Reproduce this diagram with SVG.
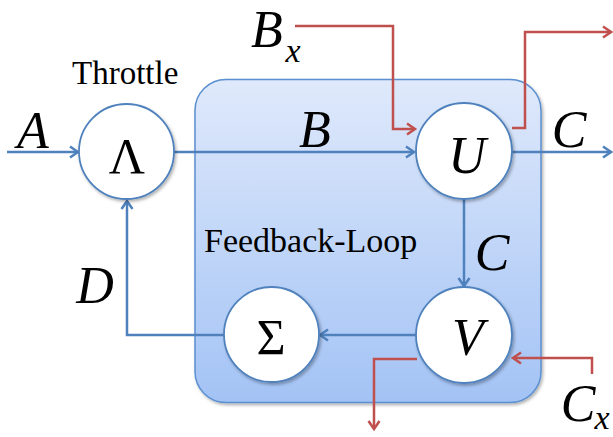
<svg xmlns="http://www.w3.org/2000/svg" width="613" height="437" viewBox="0 0 613 437">
<defs>
<linearGradient id="boxgrad" x1="0" y1="0" x2="0" y2="1">
<stop offset="0" stop-color="#dfe9fb"/>
<stop offset="1" stop-color="#a3c3f5"/>
</linearGradient>
<filter id="sh" x="-10%" y="-10%" width="130%" height="130%">
<feDropShadow dx="1.5" dy="2" stdDeviation="1.8" flood-color="#000" flood-opacity="0.3"/>
</filter>
<marker id="ab" markerUnits="userSpaceOnUse" markerWidth="14" markerHeight="14" refX="10" refY="6" orient="auto" overflow="visible">
<path d="M2,0.5 L10,6 L2,11.5" fill="none" stroke="#4f81bd" stroke-width="2.5"/>
</marker>
<marker id="ar" markerUnits="userSpaceOnUse" markerWidth="14" markerHeight="14" refX="10" refY="6" orient="auto" overflow="visible">
<path d="M2,0.5 L10,6 L2,11.5" fill="none" stroke="#c0504d" stroke-width="2.5"/>
</marker>
</defs>
<style>
.node{fill:#fff;stroke:#4f81bd;stroke-width:1.8;}
.bl{fill:none;stroke:#4f81bd;stroke-width:2.5;}
.rd{fill:none;stroke:#c0504d;stroke-width:2.5;}
text{font-family:'Liberation Serif','Times New Roman',Tinos,'Noto Serif','DejaVu Serif',FreeSerif,'Nimbus Roman','Nimbus Roman No9 L',Times,serif;fill:#000;}
.it{font-style:italic;font-size:52px;text-anchor:middle;}
.sub{font-style:italic;font-size:34px;text-anchor:middle;}
.up{font-size:50px;text-anchor:middle;}
.lab{font-size:33px;}
</style>
<g id="feedback-loop">
<rect x="195" y="79.5" width="346" height="323" rx="31" ry="31" fill="url(#boxgrad)" stroke="#5b8fd0" stroke-width="1.5" filter="url(#sh)"/>
<text class="lab" x="204" y="252" style="font-size:34px">Feedback-Loop</text>
</g>
<g id="connectors">
<path class="bl" d="M7,152 L78,152" marker-end="url(#ab)"/>
<path class="bl" d="M174,152 L414,152" marker-end="url(#ab)"/>
<path class="bl" d="M512,152 L611,152" marker-end="url(#ab)"/>
<path class="bl" d="M464,199 L464,286" marker-end="url(#ab)"/>
<path class="bl" d="M416,335 L320,335" marker-end="url(#ab)"/>
<path class="bl" d="M224,335 L127,335 L127,201" marker-end="url(#ab)"/>
<path class="rd" d="M295,26 L393,26 L393,129 L415,129" marker-end="url(#ar)"/>
<path class="rd" d="M512,128 L525,128 L525,32 L611,32" marker-end="url(#ar)"/>
<path class="rd" d="M417,359 L374,359 L374,429" marker-end="url(#ar)"/>
<path class="rd" d="M592,374 L592,358 L513,358" marker-end="url(#ar)"/>
</g>
<g id="labels">
<text class="it" x="33" y="148">A</text>
<text class="it" x="315" y="147">B</text>
<text class="it" x="267" y="47">B</text>
<text class="sub" x="293" y="62">x</text>
<text class="it" x="569" y="147">C</text>
<text class="it" x="492" y="270">C</text>
<text class="it" x="95" y="303">D</text>
<text class="it" x="578" y="421">C</text>
<text class="sub" x="602" y="429">x</text>
</g>
<g id="throttle">
<circle class="node" cx="126.5" cy="151.5" r="47.5" filter="url(#sh)"/>
<text class="up" x="127" y="173">Λ</text>
<text class="lab" x="72" y="84">Throttle</text>
</g>
<g id="U">
<circle class="node" cx="464" cy="151" r="48" filter="url(#sh)"/>
<text class="it" x="467" y="173">U</text>
</g>
<g id="sigma">
<circle class="node" cx="271.5" cy="334.5" r="47.5" filter="url(#sh)"/>
<text class="up" x="271" y="354">Σ</text>
</g>
<g id="V">
<circle class="node" cx="464" cy="335" r="48" filter="url(#sh)"/>
<text class="it" x="468" y="355">V</text>
</g>
</svg>
